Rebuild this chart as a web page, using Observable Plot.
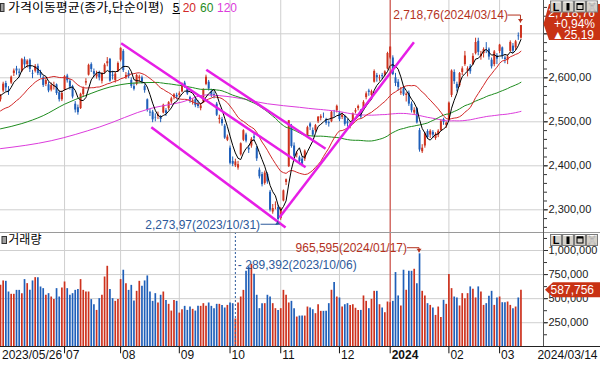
<!DOCTYPE html>
<html><head><meta charset="utf-8">
<script src="https://cdn.jsdelivr.net/npm/d3@7"></script>
<script src="https://cdn.jsdelivr.net/npm/@observablehq/plot@0.6"></script>
<style>
body{margin:0;background:#fff;}
#chart{position:relative;width:600px;height:366px;overflow:hidden;background:#fff;font-family:"Liberation Sans",Arial,sans-serif;}
#chart svg{position:absolute;left:0;}
</style></head><body><div id="chart"></div>
<script>
// ---------- DATA ----------
const dates = ["2023/05/26","2023/05/30","2023/05/31",
"2023/06/01","2023/06/02","2023/06/05","2023/06/07","2023/06/08","2023/06/09","2023/06/12","2023/06/13","2023/06/14","2023/06/15","2023/06/16","2023/06/19","2023/06/20","2023/06/21","2023/06/22","2023/06/23","2023/06/26","2023/06/27","2023/06/28","2023/06/29","2023/06/30",
"2023/07/03","2023/07/04","2023/07/05","2023/07/06","2023/07/07","2023/07/10","2023/07/11","2023/07/12","2023/07/13","2023/07/14","2023/07/17","2023/07/18","2023/07/19","2023/07/20","2023/07/21","2023/07/24","2023/07/25","2023/07/26","2023/07/27","2023/07/28","2023/07/31",
"2023/08/01","2023/08/02","2023/08/03","2023/08/04","2023/08/07","2023/08/08","2023/08/09","2023/08/10","2023/08/11","2023/08/14","2023/08/16","2023/08/17","2023/08/18","2023/08/21","2023/08/22","2023/08/23","2023/08/24","2023/08/25","2023/08/28","2023/08/29","2023/08/30","2023/08/31",
"2023/09/01","2023/09/04","2023/09/05","2023/09/06","2023/09/07","2023/09/08","2023/09/11","2023/09/12","2023/09/13","2023/09/14","2023/09/15","2023/09/18","2023/09/19","2023/09/20","2023/09/21","2023/09/22","2023/09/25","2023/09/26","2023/09/27",
"2023/10/04","2023/10/05","2023/10/06","2023/10/10","2023/10/11","2023/10/12","2023/10/13","2023/10/16","2023/10/17","2023/10/18","2023/10/19","2023/10/20","2023/10/23","2023/10/24","2023/10/25","2023/10/26","2023/10/27","2023/10/30","2023/10/31",
"2023/11/01","2023/11/02","2023/11/03","2023/11/06","2023/11/07","2023/11/08","2023/11/09","2023/11/10","2023/11/13","2023/11/14","2023/11/15","2023/11/16","2023/11/17","2023/11/20","2023/11/21","2023/11/22","2023/11/23","2023/11/24","2023/11/27","2023/11/28","2023/11/29","2023/11/30",
"2023/12/01","2023/12/04","2023/12/05","2023/12/06","2023/12/07","2023/12/08","2023/12/11","2023/12/12","2023/12/13","2023/12/14","2023/12/15","2023/12/18","2023/12/19","2023/12/20","2023/12/21","2023/12/22","2023/12/26","2023/12/27","2023/12/28",
"2024/01/02","2024/01/03","2024/01/04","2024/01/05","2024/01/08","2024/01/09","2024/01/10","2024/01/11","2024/01/12","2024/01/15","2024/01/16","2024/01/17","2024/01/18","2024/01/19","2024/01/22","2024/01/23","2024/01/24","2024/01/25","2024/01/26","2024/01/29","2024/01/30","2024/01/31",
"2024/02/01","2024/02/02","2024/02/05","2024/02/06","2024/02/07","2024/02/08","2024/02/13","2024/02/14","2024/02/15","2024/02/16","2024/02/19","2024/02/20","2024/02/21","2024/02/22","2024/02/23","2024/02/26","2024/02/27","2024/02/28","2024/02/29",
"2024/03/04","2024/03/05","2024/03/06","2024/03/07","2024/03/08","2024/03/11","2024/03/12","2024/03/13","2024/03/14"];

const opens = [2550,2570,2587,
2571,2588,2610,2620,2613,2615,2641,2630,2640,2610,2615,2626,2612,2600,2585,2584,2572,2580,2584,2566,2550,
2572,2604,2592,2580,2540,2532,2530,2562,2588,2606,2630,2614,2602,2612,2592,2612,2632,2642,2606,2594,2614,
2640,2660,2600,2610,2594,2580,2585,2598,2600,2580,2550,2522,2522,2510,2512,2512,2520,2525,2530,2545,2555,2560,
2560,2568,2588,2576,2555,2545,2550,2540,2530,2545,2585,2590,2568,2562,2540,2505,2505,2490,2458,
2440,2410,2400,2395,2425,2458,2470,2440,2445,2466,2440,2390,2380,2360,2380,2340,2295,2310,2305,
2280,2320,2362,2398,2490,2445,2425,2418,2415,2415,2468,2495,2480,2480,2500,2508,2515,2505,2498,2500,2520,2525,
2520,2510,2512,2500,2490,2500,2522,2530,2525,2530,2555,2570,2560,2590,2605,2598,2605,2606,2620,
2645,2645,2600,2590,2565,2575,2560,2565,2540,2520,2530,2480,2432,2445,2478,2470,2476,2462,2470,2480,2505,2492,
2505,2560,2612,2585,2582,2612,2630,2615,2625,2630,2655,2683,2648,2655,2668,2665,2640,2630,2650,
2660,2668,2645,2640,2660,2672,2668,2695,2690];

const highs = [2562,2590,2592,
2580,2604,2620,2626,2620,2644,2647,2641,2643,2617,2630,2631,2617,2604,2598,2590,2588,2590,2586,2570,2570,
2605,2608,2596,2583,2546,2538,2565,2579,2598,2631,2634,2620,2615,2615,2612,2632,2646,2644,2615,2612,2636,
2668,2664,2612,2616,2600,2588,2608,2606,2604,2584,2552,2528,2526,2518,2522,2514,2540,2530,2546,2556,2564,2565,
2568,2588,2592,2580,2558,2552,2556,2548,2540,2575,2606,2594,2574,2568,2544,2515,2510,2494,2470,
2445,2420,2415,2410,2452,2482,2474,2446,2464,2472,2444,2395,2385,2388,2384,2344,2312,2318,2310,
2305,2345,2370,2503,2494,2452,2432,2422,2420,2436,2490,2498,2486,2494,2512,2516,2520,2508,2502,2524,2526,2538,
2524,2520,2515,2505,2498,2520,2530,2538,2528,2548,2568,2574,2572,2618,2610,2606,2610,2616,2658,
2670,2650,2610,2596,2578,2580,2566,2570,2545,2532,2532,2485,2448,2476,2482,2482,2480,2475,2482,2505,2508,2500,
2545,2618,2618,2590,2612,2625,2660,2625,2630,2655,2690,2690,2660,2668,2680,2668,2645,2662,2655,
2676,2670,2650,2652,2684,2678,2685,2702,2718.76];

const lows = [2545,2566,2568,
2560,2585,2603,2606,2600,2612,2622,2622,2612,2598,2611,2605,2599,2578,2580,2566,2568,2572,2560,2545,2546,
2570,2588,2572,2552,2520,2515,2528,2556,2582,2604,2612,2600,2597,2593,2586,2608,2625,2590,2595,2588,2612,
2636,2612,2596,2598,2576,2570,2582,2590,2586,2565,2522,2512,2498,2500,2505,2498,2518,2512,2526,2540,2550,2550,
2555,2566,2576,2560,2542,2538,2532,2530,2525,2542,2582,2570,2555,2552,2512,2495,2490,2460,2455,
2402,2398,2396,2390,2422,2455,2452,2428,2440,2455,2410,2370,2352,2356,2358,2295,2290,2300,2273.97,
2276,2318,2355,2396,2440,2418,2418,2402,2398,2410,2466,2480,2466,2476,2496,2502,2508,2492,2488,2498,2510,2520,
2500,2505,2490,2488,2484,2496,2518,2525,2506,2526,2550,2558,2555,2588,2590,2592,2596,2602,2618,
2642,2605,2580,2570,2560,2558,2545,2535,2520,2515,2495,2431,2428,2440,2460,2462,2462,2458,2464,2478,2492,2485,
2502,2555,2585,2568,2578,2605,2626,2602,2608,2628,2652,2650,2640,2645,2655,2640,2620,2625,2630,
2655,2642,2632,2630,2658,2655,2662,2685,2688];

const closes = [2558.81,2585.52,2577.12,
2569.17,2601.36,2615.41,2615.60,2610.25,2641.16,2629.35,2637.95,2619.08,2608.54,2625.79,2609.50,2604.91,2582.63,2593.70,2570.10,2582.20,2581.73,2564.19,2550.29,2564.28,
2602.47,2593.31,2579.00,2556.29,2526.71,2520.70,2562.49,2574.72,2591.26,2628.30,2619.00,2607.80,2608.24,2599.77,2609.76,2628.59,2636.46,2592.36,2603.81,2608.32,2632.58,
2667.07,2616.47,2605.39,2602.80,2580.71,2573.98,2605.12,2601.56,2591.26,2570.87,2525.64,2519.85,2504.50,2508.80,2515.42,2505.17,2537.68,2519.14,2543.41,2552.16,2561.22,2556.27,
2563.71,2584.55,2582.18,2563.34,2548.26,2547.68,2536.58,2534.70,2536.02,2572.89,2601.28,2574.72,2559.21,2559.74,2514.97,2508.13,2495.76,2462.97,2465.07,
2405.69,2403.60,2408.73,2402.58,2450.08,2479.82,2456.15,2436.24,2460.17,2462.60,2415.80,2375.00,2357.02,2383.51,2363.17,2299.08,2302.81,2310.55,2277.99,
2301.56,2343.12,2368.34,2502.37,2443.96,2421.62,2427.08,2409.66,2403.76,2433.25,2486.67,2488.18,2469.85,2491.20,2510.42,2511.70,2514.96,2496.63,2495.66,2521.76,2519.81,2535.29,
2505.01,2514.95,2494.28,2495.38,2492.07,2517.85,2525.36,2535.03,2510.66,2544.18,2563.56,2566.86,2568.55,2614.30,2600.02,2599.51,2602.59,2613.50,2655.28,
2669.81,2607.31,2587.02,2578.08,2567.82,2561.24,2562.71,2540.27,2525.05,2525.99,2497.59,2435.90,2440.04,2472.74,2464.35,2478.61,2469.69,2470.34,2478.56,2500.65,2498.81,2497.09,
2542.46,2615.31,2591.31,2576.20,2609.58,2620.32,2649.64,2620.42,2613.80,2648.76,2680.26,2657.79,2653.31,2664.27,2667.70,2647.08,2625.05,2658.84,2642.36,
2674.27,2649.40,2641.49,2647.62,2680.35,2660.66,2681.81,2693.57,2718.76];

// closes of the 19 sessions before the first visible day (for the 5/20 day averages)
const priorCloses = [2510,2518,2528,2520,2515,2505,2522,2510,2505,2492,2496,2497,2510,2528,2540,2563,2557,2564,2555];

const volumes = [638000,684000,680000,569000,545000,545000,586000,586000,552000,698000,
656000,586000,684000,718000,718000,621000,604000,535000,552000,517000,
490000,604000,517000,611000,673000,604000,535000,552000,586000,594000,
698000,586000,569000,569000,490000,437000,378000,500000,535000,725000,
836000,594000,500000,472000,490000,698000,795000,656000,586000,638000,
476000,576000,680000,628000,684000,736000,569000,472000,552000,455000,
535000,569000,482000,441000,371000,482000,472000,350000,385000,420000,
378000,413000,389000,371000,420000,420000,448000,420000,455000,420000,
396000,441000,441000,430000,403000,430000,455000,448000,289392,455000,
517000,586000,784000,830000,857000,753000,535000,396000,448000,448000,
535000,517000,448000,396000,378000,396000,586000,535000,455000,472000,
396000,309000,319000,
319000,319000,413000,403000,385000,344000,437000,368000,368000,368000,
448000,587000,667000,517000,507000,413000,437000,448000,430000,437000,
400000,378000,378000,528000,472000,396000,493000,576000,576000,437000,
403000,354000,465000,458000,472000,771000,528000,424000,795000,587000,
784000,784000,805000,656000,965595,
576000,528000,448000,430000,403000,326000,413000,305000,483000,441000,
750000,604000,517000,507000,424000,552000,500000,552000,622000,597000,
507000,622000,570000,430000,448000,524000,576000,430000,507000,517000,
458000,458000,465000,430000,396000,413000,507000,587756];

const ma60ReadIdx = [0,8,16,24,32,41,50];
const ma60ReadVal = [2484,2496,2514,2540,2560,2579,2588];
const ma120ReadIdx = [0,19,37,56,68,77,87,100,112];
const ma120ReadVal = [2439,2457,2488,2530,2545,2561,2556,2541,2533];

// hand-drawn trend lines (session index, price)
const trendX1 = [45.2, 56.5, 77.1, 104.5];
const trendY1 = [2678.6, 2487.7, 2618.2, 2282.5];
const trendX2 = [114.3, 106.8, 121.8, 154.9];
const trendY2 = [2396.8, 2259.8, 2438.6, 2680.9];

const priceTicks = [2300, 2400, 2500, 2600, 2700];
const priceMinor = d3.range(2260, 2780, 20);
const volTicks = [250000, 500000, 750000, 1000000];
const volMinor = d3.range(125000, 1190000, 125000);

// ---------- BUILD ----------
const RED = "#cd321e", BLUE = "#1f5fb9", GRID = "#cfcfcf";
const MA5C = "#000000", MA20C = "#d22828", MA60C = "#1e8c1e", MA120C = "#dc3cdc";
const TREND = "#e61ee6", YEARC = "#d03a30", ANN_R = "#b4321e", ANN_B = "#2d5a9b";
const W = 600, priceH = 232, volH = 134, axisX = 543;
const N = dates.length;
const xDomain = [0, N - 1], xRange = [0, 2.669 * (N - 1)];

const rows = dates.map((d, i) => ({i, date: d, open: opens[i], high: highs[i], low: lows[i], close: closes[i], volume: volumes[i], up: closes[i] >= opens[i]}));
const allCloses = priorCloses.concat(closes), P = priorCloses.length;
function smaAll(n, i) { const k = i + P; if (k - n + 1 < 0) return null; let s = 0; for (let j = k - n + 1; j <= k; j++) s += allCloses[j]; return s / n; }
function smaVis(n, i) { if (i - n + 1 < 0) return null; let s = 0; for (let j = i - n + 1; j <= i; j++) s += closes[j]; return s / n; }
rows.forEach(r => { r.ma5 = smaAll(5, r.i); r.ma20 = smaAll(20, r.i); });
const ma60 = ma60ReadIdx.map((i, k) => ({i, v: ma60ReadVal[k]})).concat(rows.filter(r => r.i >= 59).map(r => ({i: r.i, v: smaVis(60, r.i)})));
const ma120 = ma120ReadIdx.map((i, k) => ({i, v: ma120ReadVal[k]})).concat(rows.filter(r => r.i >= 119).map(r => ({i: r.i, v: smaVis(120, r.i)})));

// month boundaries (the first one, too close to the start label, is not shown)
const monthRows = rows.filter((r, k) => k > 0 && r.date.slice(5, 7) !== rows[k - 1].date.slice(5, 7))
  .map(r => ({i: r.i, label: r.date.slice(5, 7) === "01" ? r.date.slice(0, 4) : r.date.slice(5, 7), year: r.date.slice(5, 7) === "01"}))
  .filter(m => m.i > 10);
const monthIdx = monthRows.map(m => m.i);
const yearIdx = monthRows.filter(m => m.year).map(m => m.i);

const hiRow = rows.reduce((a, b) => b.high > a.high ? b : a);
const loRow = rows.reduce((a, b) => b.low < a.low ? b : a);
const vMaxRow = rows.reduce((a, b) => b.volume > a.volume ? b : a);
const vMinRow = rows.reduce((a, b) => b.volume < a.volume ? b : a);
const fmtP = v => d3.format(",.2f")(v).replace(".", ",");
const fmtV = d3.format(",");

const font = "'Liberation Sans', Arial, sans-serif";
const trendIdx = d3.range(trendX1.length);

const pricePlot = Plot.plot({
  width: W, height: priceH, marginTop: 0, marginBottom: 0, marginLeft: 0, marginRight: W - axisX,
  x: {type: "linear", domain: xDomain, range: xRange, axis: null},
  y: {type: "linear", domain: [2248.4, 2775.7], range: [priceH, 0], axis: null},
  style: {background: "transparent", overflow: "visible", fontFamily: font},
  marks: [
    Plot.gridY({ticks: priceTicks, stroke: GRID, strokeOpacity: 1}),
    Plot.gridX({ticks: monthIdx, stroke: GRID, strokeOpacity: 1}),
    Plot.ruleX(rows, {x: "i", y1: "low", y2: "high", stroke: d => d.up ? RED : BLUE, strokeWidth: 1}),
    Plot.ruleX(rows, {x: "i", y1: "open", y2: "close", stroke: d => d.up ? RED : BLUE, strokeWidth: 2}),
    Plot.line(ma120, {x: "i", y: "v", stroke: MA120C, strokeWidth: 1, curve: "monotone-x"}),
    Plot.line(ma60, {x: "i", y: "v", stroke: MA60C, strokeWidth: 1, curve: "monotone-x"}),
    Plot.line(rows, {x: "i", y: "ma20", stroke: MA20C, strokeWidth: 1}),
    Plot.line(rows, {x: "i", y: "ma5", stroke: MA5C, strokeWidth: 1}),
    Plot.link(trendIdx, {x1: k => trendX1[k], y1: k => trendY1[k], x2: k => trendX2[k], y2: k => trendY2[k], stroke: TREND, strokeWidth: 2.5}),
    Plot.ruleX(yearIdx, {stroke: YEARC, strokeWidth: 1}),
    Plot.axisY({anchor: "right", ticks: priceMinor, tickSize: 3, tickFormat: () => "", stroke: "#333", label: null}),
    Plot.axisY({anchor: "right", ticks: priceTicks, tickSize: 4, tickPadding: 1, tickFormat: v => fmtV(v) + ",00", fontSize: 11, fill: "#1a1a1a", stroke: "#333", label: null}),
    Plot.text([hiRow], {x: "i", y: "high", text: d => fmtP(d.high) + "(" + d.date + ")", dx: -13, dy: -10, textAnchor: "end", lineAnchor: "middle", fill: ANN_R, fontSize: 12}),
    Plot.text([loRow], {x: "i", y: "low", text: d => fmtP(d.low) + "(" + d.date + ")", dx: -18, dy: 3.5, textAnchor: "end", lineAnchor: "middle", fill: ANN_B, fontSize: 12})
  ]
});
pricePlot.style.top = "0px";

const volPlot = Plot.plot({
  width: W, height: volH, marginTop: 0, marginBottom: 19.7, marginLeft: 0, marginRight: W - axisX,
  x: {type: "linear", domain: xDomain, range: xRange, axis: null},
  y: {type: "linear", domain: [0, 1000000], range: [114.3, 18], axis: null},
  style: {background: "transparent", overflow: "visible", fontFamily: font},
  marks: [
    Plot.gridY({ticks: volTicks, stroke: GRID, strokeOpacity: 1}),
    Plot.gridX({ticks: monthIdx, stroke: GRID, strokeOpacity: 1}),
    Plot.ruleX(rows, {x: "i", y1: 0, y2: "volume", stroke: d => d.up ? RED : BLUE, strokeWidth: 1.7}),
    Plot.ruleX([vMinRow], {x: "i", stroke: ANN_B, strokeWidth: 1, strokeDasharray: "2,2"}),
    Plot.ruleX(yearIdx, {stroke: YEARC, strokeWidth: 1}),
    Plot.axisY({anchor: "right", ticks: volMinor, tickSize: 3, tickFormat: () => "", stroke: "#333", label: null}),
    Plot.axisY({anchor: "right", ticks: volTicks, tickSize: 4, tickPadding: 1, tickFormat: fmtV, fontSize: 11, fill: "#1a1a1a", stroke: "#333", label: null}),
    Plot.axisX({anchor: "bottom", ticks: monthIdx, tickSize: 7, tickFormat: () => "", stroke: "#111", label: null}),
    Plot.text(monthRows.filter(m => !m.year), {x: "i", text: "label", frameAnchor: "bottom", dx: 1.5, dy: 8.2, textAnchor: "start", lineAnchor: "middle", fontSize: 12, fill: "#111"}),
    Plot.text(monthRows.filter(m => m.year), {x: "i", text: "label", frameAnchor: "bottom", dx: 1.5, dy: 8.2, textAnchor: "start", lineAnchor: "middle", fontSize: 12, fontWeight: "bold", fill: "#111"}),
    Plot.text([rows[0]], {x: "i", text: "date", frameAnchor: "bottom", dx: 1.5, dy: 8.2, textAnchor: "start", lineAnchor: "middle", fontSize: 12, fill: "#111"}),
    Plot.text([rows[N - 1]], {text: "date", frameAnchor: "bottom-right", dx: 54, dy: 8.2, textAnchor: "end", lineAnchor: "middle", fontSize: 12, fill: "#111"}),
    Plot.text([vMaxRow], {x: "i", y: "volume", text: d => fmtV(d.volume) + "(" + d.date + ")", dx: -12.5, dy: -5.6, textAnchor: "end", lineAnchor: "middle", fill: ANN_R, fontSize: 12}),
    Plot.text([vMinRow], {x: "i", text: d => "- " + fmtV(d.volume) + "(" + d.date + ")", frameAnchor: "top", dx: 2.5, dy: 33, textAnchor: "start", lineAnchor: "middle", fill: ANN_B, fontSize: 12})
  ]
});
volPlot.style.top = priceH + "px";

const chart = document.getElementById("chart");
chart.appendChild(pricePlot);
chart.appendChild(volPlot);

function scaleFn(plot, name, dom, rng) {
  const s = plot.scale(name);
  if (s && typeof s.apply === "function") return v => s.apply(v);
  return d3.scaleLinear(s && s.domain ? s.domain : dom, s && s.range ? s.range : rng);
}
const PX = scaleFn(pricePlot, "x", xDomain, xRange), PY = scaleFn(pricePlot, "y", [2248.4, 2775.7], [priceH, 0]);
const VX = scaleFn(volPlot, "x", xDomain, xRange), VY = scaleFn(volPlot, "y", [0, 1000000], [114.3, 18]);

// leaders for the annotations
function leader(svg, x0, x1, y, color) {
  d3.select(svg).append("line").attr("x1", x0).attr("x2", x1).attr("y1", y).attr("y2", y).attr("stroke", color).attr("stroke-width", 1);
}
function arrowV(svg, x, yFrom, yTo, color) {
  const g = d3.select(svg);
  g.append("line").attr("x1", x).attr("x2", x).attr("y1", yFrom).attr("y2", yTo).attr("stroke", color).attr("stroke-width", 1);
  const dir = yTo > yFrom ? 1 : -1;
  g.append("path").attr("d", `M${x - 2.5},${yTo - dir * 3.5}L${x + 2.5},${yTo - dir * 3.5}L${x},${yTo}Z`).attr("fill", color);
}
{
  const xh = PX(hiRow.i), yh = PY(hiRow.high);
  leader(pricePlot, xh - 13, xh, yh - 10, ANN_R); arrowV(pricePlot, xh, yh - 10, yh - 2.5, ANN_R);
  const xl = PX(loRow.i), yl = PY(loRow.low);
  leader(pricePlot, xl - 17, xl, yl + 3.5, ANN_B); arrowV(pricePlot, xl, yl + 3.5, yl + 0.5, ANN_B);
  const xv = VX(vMaxRow.i), yv = VY(vMaxRow.volume);
  leader(volPlot, xv - 12, xv, yv - 5.6, ANN_R); arrowV(volPlot, xv, yv - 5.6, yv - 1, ANN_R);
}

// ---------- CHROME OVERLAY ----------
const ov = d3.select(chart).append("svg").attr("width", W).attr("height", 366).style("top", "0px").style("font-family", font);
ov.append("line").attr("x1", 0).attr("x2", W).attr("y1", 232.5).attr("y2", 232.5).attr("stroke", "#9a9a9a");
ov.append("line").attr("x1", axisX + 0.5).attr("x2", axisX + 0.5).attr("y1", 0).attr("y2", 346).attr("stroke", "#555");
ov.append("line").attr("x1", 0).attr("x2", W).attr("y1", 346.5).attr("y2", 346.5).attr("stroke", "#222");

// legends
ov.append("rect").attr("x", 0.5).attr("y", 3.5).attr("width", 3.5).attr("height", 8).attr("fill", "#a0a0a0").attr("stroke", "#333");
ov.append("text").attr("x", 8).attr("y", 12.3).attr("font-family", "'Noto Sans CJK KR', sans-serif").attr("font-size", 12)
  .attr("textLength", 156).attr("lengthAdjust", "spacingAndGlyphs").attr("fill", "#000").text("가격이동평균(종가,단순이평)");
const legendMA = [["5", 172.7, MA5C], ["20", 182.7, MA20C], ["60", 200, MA60C], ["120", 217, MA120C]];
legendMA.forEach(([t, x, c]) => ov.append("text").attr("x", x).attr("y", 12).attr("font-size", 12).attr("fill", c).text(t));
ov.append("line").attr("x1", 172.5).attr("x2", 180).attr("y1", 13.5).attr("y2", 13.5).attr("stroke", "#000");
ov.append("rect").attr("x", 2).attr("y", 236.5).attr("width", 4.5).attr("height", 7).attr("fill", "#a0a0a0").attr("stroke", "#333");
ov.append("text").attr("x", 8.3).attr("y", 244.2).attr("font-family", "'Noto Sans CJK KR', sans-serif").attr("font-size", 12).attr("fill", "#000").text("거래량");

// window buttons
function buttons(y) {
  const labels = ["L", "I", "box", "X"];
  labels.forEach((b, k) => {
    const x = 550 + k * 12;
    ov.append("rect").attr("x", x + 0.5).attr("y", y + 0.5).attr("width", 11).attr("height", 11).attr("fill", "#d4d0c8").attr("stroke", "#7a7a7a");
    ov.append("line").attr("x1", x + 1.5).attr("x2", x + 10.5).attr("y1", y + 1.5).attr("y2", y + 1.5).attr("stroke", "#fff");
    if (b === "L") ov.append("text").attr("x", x + 6).attr("y", y + 10).attr("text-anchor", "middle").attr("font-size", 11).attr("font-weight", "bold").attr("fill", "#000").text("L");
    if (b === "I") ov.append("rect").attr("x", x + 4.5).attr("y", y + 2.5).attr("width", 3).attr("height", 7.5).attr("fill", "#000");
    if (b === "box") { ov.append("rect").attr("x", x + 3).attr("y", y + 3).attr("width", 6).attr("height", 6).attr("fill", "none").attr("stroke", "#000"); ov.append("line").attr("x1", x + 3).attr("x2", x + 9).attr("y1", y + 3.5).attr("y2", y + 3.5).attr("stroke", "#000").attr("stroke-width", 2); }
    if (b === "X") ov.append("text").attr("x", x + 6).attr("y", y + 10).attr("text-anchor", "middle").attr("font-size", 11).attr("fill", "#f4f4f4").attr("stroke", "#888").attr("stroke-width", 0.4).text("X");
  });
}

// price and volume badges
{
  const last = rows[N - 1], prev = rows[N - 2];
  const chg = last.close - prev.close, pct = chg / prev.close * 100;
  const yc = PY(last.close);
  ov.append("path").attr("d", `M549,${yc - 21}L543.5,${yc - 1}L549,${yc + 15}L600,${yc + 15}L600,${yc - 21}Z`).attr("fill", "#c83214");
  ov.append("text").attr("x", 595).attr("y", yc - 8.5).attr("text-anchor", "end").attr("font-size", 12).attr("fill", "#fff").text(fmtP(last.close));
  ov.append("text").attr("x", 595).attr("y", yc + 3).attr("text-anchor", "end").attr("font-size", 12).attr("fill", "#fff").text((chg >= 0 ? "+" : "-") + d3.format(".2f")(Math.abs(pct)).replace(".", ",") + "%");
  ov.append("text").attr("x", 594).attr("y", yc + 14).attr("text-anchor", "end").attr("font-size", 12).attr("fill", "#fff").text((chg >= 0 ? "▲" : "▼") + d3.format(".2f")(Math.abs(chg)).replace(".", ","));
  const yv = priceH + VY(last.volume);
  ov.append("path").attr("d", `M553,${yv - 7.5}L545,${yv}L553,${yv + 7.5}L600,${yv + 7.5}L600,${yv - 7.5}Z`).attr("fill", "#c83214");
  ov.append("text").attr("x", 594).attr("y", yv + 4.3).attr("text-anchor", "end").attr("font-size", 12).attr("fill", "#fff").text(fmtV(last.volume));
}
buttons(0.5);
buttons(234);
</script></body></html>
